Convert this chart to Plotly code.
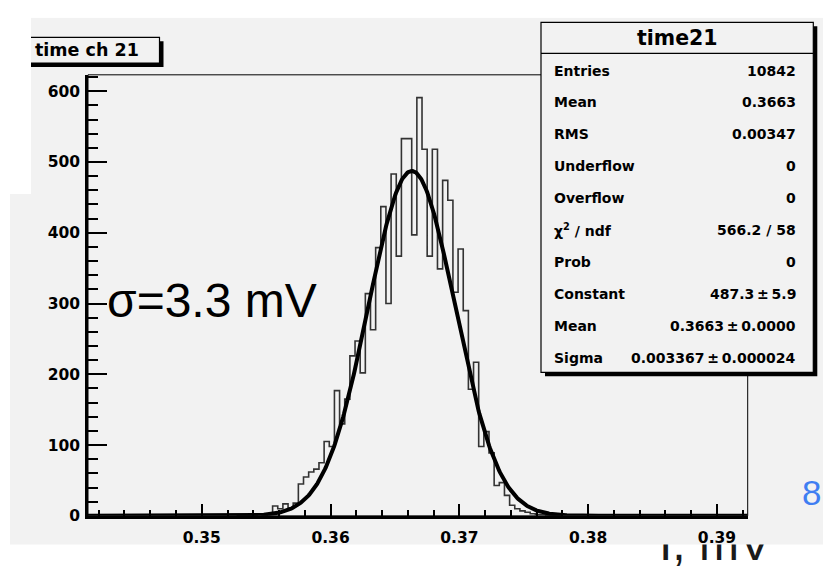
import numpy as np
import plotly.graph_objects as go

W, H = 823, 579

# ---------------- data ----------------
bin_first_left = 0.3527
bin_width = 0.0004
counts = [0, 1, 1, 1, 2, 1, 3, 14, 10, 17, 11, 18,
          45, 55, 62, 66, 75, 105, 98, 177, 130, 165, 226, 247, 202,
          314, 263, 379, 437, 300, 483, 367, 533, 533, 397, 591, 518,
          367, 518, 349, 474, 446, 316, 377, 290, 179, 217, 98, 119,
          89, 43, 47, 29, 15, 10, 7, 5, 3, 2, 2, 1, 1, 0]

fit_constant = 487.3
fit_mean = 0.3663
fit_sigma = 0.003367

x_range = [0.341169, 0.392384]
y_range = [0, 623.2]
x_tick_vals = [0.35, 0.36, 0.37, 0.38, 0.39]
y_tick_vals = [0, 100, 200, 300, 400, 500, 600]

hist_title = "time ch 21"
stats_title = "time21"
stats_labels = ["Entries", "Mean", "RMS", "Underflow", "Overflow",
                "χ<sup>2</sup> / ndf", "Prob", "Constant", "Mean", "Sigma"]
stats_values = ["10842", "0.3663", "0.00347", "0", "0", "566.2 / 58", "0",
                "487.3\u2009±\u20095.9", "0.3663\u2009±\u20090.0000",
                "0.003367\u2009±\u20090.000024"]
sigma_note = "σ=3.3 mV"
page_number = "8"
axis_caption = "I, mV"

# ---------------- helpers (pixel -> paper) ----------------
def px(x):
    return x / W

def py(y):
    return 1 - y / H

GRAY = "#f2f2f2"

edges = bin_first_left + bin_width * np.arange(len(counts) + 1)
step_x = list(edges)
step_y = list(counts) + [counts[-1]]

fx = np.linspace(x_range[0], x_range[1], 800)
fy = fit_constant * np.exp(-0.5 * ((fx - fit_mean) / fit_sigma) ** 2)

fig = go.Figure()
fig.add_trace(go.Scatter(x=step_x, y=step_y, mode="lines", line_shape="hv",
                         line=dict(color="#333333", width=1.6),
                         hoverinfo="skip", showlegend=False))
fig.add_trace(go.Scatter(x=fx, y=fy, mode="lines",
                         line=dict(color="black", width=4),
                         hoverinfo="skip", showlegend=False))
# partially hidden caption at the bottom (clipped by its own subplot)
fig.add_trace(go.Scatter(x=[659], y=[556.5], mode="text", text=[axis_caption],
                         textposition="middle right",
                         textfont=dict(family="Liberation Sans", size=48, color="#1a1a1a"),
                         xaxis="x2", yaxis="y2", cliponaxis=True,
                         hoverinfo="skip", showlegend=False))

tickfont = dict(family="DejaVu Sans", size=15.5, color="black", weight="bold")

fig.update_layout(
    width=W, height=H,
    margin=dict(l=0, r=0, t=0, b=0),
    paper_bgcolor="white", plot_bgcolor="rgba(0,0,0,0)",
    showlegend=False, hovermode=False,
    xaxis=dict(domain=[px(88), px(747.7)], range=x_range, anchor="y",
               tickvals=x_tick_vals, ticktext=[str(v) for v in x_tick_vals],
               ticks="inside", ticklen=12, tickwidth=1.5, tickcolor="black",
               minor=dict(dtick=0.002, tick0=0.35, ticks="inside", ticklen=6,
                          tickwidth=1.5, tickcolor="black", showgrid=False),
               showline=True, linewidth=2.5, linecolor="black",
               showgrid=False, zeroline=False, tickfont=tickfont,
               ticklabelstandoff=6),
    yaxis=dict(domain=[py(524), py(76)], range=y_range, anchor="x",
               tickvals=y_tick_vals,
               ticks="inside", ticklen=19, tickwidth=1.5, tickcolor="black",
               minor=dict(dtick=20, tick0=0, ticks="inside", ticklen=10,
                          tickwidth=1.5, tickcolor="black", showgrid=False),
               showline=True, linewidth=2.5, linecolor="black",
               showgrid=False, zeroline=False, tickfont=tickfont,
               ticklabelstandoff=2),
    xaxis2=dict(domain=[0, 1], range=[0, W], anchor="y2", visible=False,
                fixedrange=True),
    yaxis2=dict(domain=[0, py(553)], range=[H, 553], anchor="x2", visible=False,
                fixedrange=True),
)

shapes = []
# canvas gray (below)
shapes.append(dict(type="rect", xref="paper", yref="paper", layer="below",
                   x0=px(31), x1=1, y0=py(197), y1=py(18),
                   fillcolor=GRAY, line=dict(width=0)))
shapes.append(dict(type="rect", xref="paper", yref="paper", layer="below",
                   x0=px(10), x1=1, y0=py(553), y1=py(197),
                   fillcolor=GRAY, line=dict(width=0)))
# frame
shapes.append(dict(type="rect", xref="x domain", yref="y domain", layer="above",
                   x0=0, x1=1, y0=0, y1=1, line=dict(color="black", width=1)))
# title box "time ch 21"
shapes.append(dict(type="rect", xref="paper", yref="paper", layer="above",
                   x0=px(27), x1=px(163.5), y0=py(68), y1=py(42),
                   fillcolor="black", line=dict(width=0)))
shapes.append(dict(type="rect", xref="paper", yref="paper", layer="above",
                   x0=px(24), x1=px(159.5), y0=py(64), y1=py(38),
                   fillcolor=GRAY, line=dict(color="black", width=1.2)))
shapes.append(dict(type="rect", xref="paper", yref="paper", layer="above",
                   x0=0, x1=px(31), y0=py(197), y1=1,
                   fillcolor="white", line=dict(width=0)))
shapes.append(dict(type="rect", xref="paper", yref="paper", layer="above",
                   x0=0, x1=1, y0=py(18), y1=1,
                   fillcolor="white", line=dict(width=0)))
# stats box
shapes.append(dict(type="rect", xref="paper", yref="paper", layer="above",
                   x0=px(545), x1=px(817.3), y0=py(382.3), y1=py(26.7),
                   fillcolor="black", line=dict(width=0)))
shapes.append(dict(type="rect", xref="paper", yref="paper", layer="above",
                   x0=px(541), x1=px(813.3), y0=py(378.3), y1=py(22.7),
                   fillcolor=GRAY, line=dict(color="black", width=1.2)))
shapes.append(dict(type="line", xref="paper", yref="paper", layer="above",
                   x0=px(541), x1=px(813.3), y0=py(54.3), y1=py(54.3),
                   line=dict(color="black", width=1.2)))
fig.update_layout(shapes=shapes)

ann = []
ann.append(dict(xref="paper", yref="paper", x=px(33), y=py(51), text=hist_title,
                showarrow=False, xanchor="left", yanchor="middle",
                font=dict(family="DejaVu Sans", size=17.5, color="black", weight="bold")))
ann.append(dict(xref="paper", yref="paper", x=px(677), y=py(38.5), text=stats_title,
                showarrow=False, xanchor="center", yanchor="middle",
                font=dict(family="DejaVu Sans", size=20.5, color="black", weight="bold")))
sfont = dict(family="DejaVu Sans", size=14, color="black", weight="bold")
for i, (lab, val) in enumerate(zip(stats_labels, stats_values)):
    yy = 71.7 + i * 32.4
    ann.append(dict(xref="paper", yref="paper", x=px(552), y=py(yy), text=lab,
                    showarrow=False, xanchor="left", yanchor="middle", font=sfont))
    ann.append(dict(xref="paper", yref="paper", x=px(798), y=py(yy), text=val,
                    showarrow=False, xanchor="right", yanchor="middle", font=sfont))
ann.append(dict(xref="paper", yref="paper", x=px(105), y=py(305), text=sigma_note,
                showarrow=False, xanchor="left", yanchor="middle",
                font=dict(family="Liberation Sans", size=48, color="black")))
ann.append(dict(xref="paper", yref="paper", x=px(811.5), y=py(500), text=page_number,
                showarrow=False, xanchor="center", yanchor="middle",
                font=dict(family="Liberation Sans", size=35, color="#3f7ef2")))
fig.update_layout(annotations=ann)

fig.write_html("out.html")
